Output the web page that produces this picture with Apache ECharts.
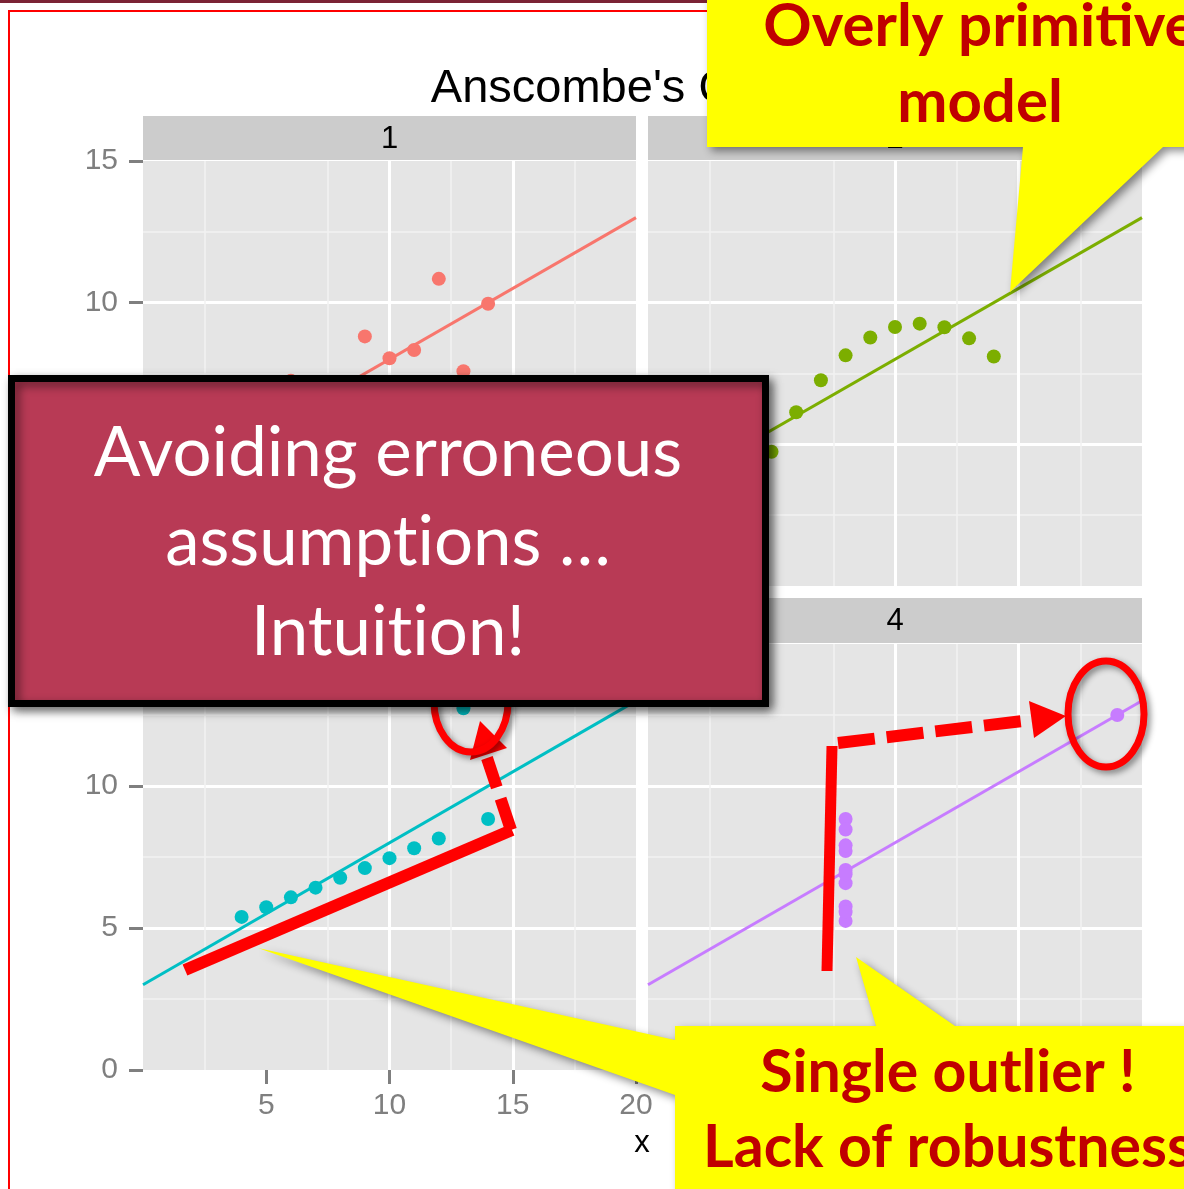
<!DOCTYPE html>
<html>
<head>
<meta charset="utf-8">
<title>Anscombe's Quartet</title>
<script src="https://cdn.jsdelivr.net/npm/echarts@6/dist/echarts.min.js"></script>
<style>
  html, body { margin: 0; padding: 0; background: #ffffff; }
  #chart { width: 1184px; height: 1189px; }
</style>
</head>
<body>
<div id="chart"></div>
<script>
// Anscombe's quartet: four small data sets, one facet each
const panelLabels = ['1', '2', '3', '4'];
const x1 = [10, 8, 13, 9, 11, 14, 6, 4, 12, 7, 5];
const y1 = [8.04, 6.95, 7.58, 8.81, 8.33, 9.96, 7.24, 4.26, 10.84, 4.82, 5.68];
const x2 = [10, 8, 13, 9, 11, 14, 6, 4, 12, 7, 5];
const y2 = [9.14, 8.14, 8.74, 8.77, 9.26, 8.10, 6.13, 3.10, 9.13, 7.26, 4.74];
const x3 = [10, 8, 13, 9, 11, 14, 6, 4, 12, 7, 5];
const y3 = [7.46, 6.77, 12.74, 7.11, 7.81, 8.84, 6.08, 5.39, 8.15, 6.42, 5.73];
const x4 = [8, 8, 8, 8, 8, 8, 8, 19, 8, 8, 8];
const y4 = [6.58, 5.76, 7.71, 8.84, 8.47, 7.04, 5.25, 12.50, 5.56, 7.91, 6.89];
const panelColors = ['#F8766D', '#7CAE00', '#00BFC4', '#C77CFF'];
const xTicks = [5, 10, 15, 20];
const yTicks = [0, 5, 10, 15];

const xsAll = [x1, x2, x3, x4];
const ysAll = [y1, y2, y3, y4];

// ordinary least-squares fit, drawn across the full x range like geom_smooth(fullrange = TRUE)
function lsFit(xs, ys) {
  const n = xs.length;
  const mx = xs.reduce((a, b) => a + b, 0) / n;
  const my = ys.reduce((a, b) => a + b, 0) / n;
  let sxy = 0, sxx = 0;
  for (let i = 0; i < n; i++) { sxy += (xs[i] - mx) * (ys[i] - my); sxx += (xs[i] - mx) * (xs[i] - mx); }
  const b = sxy / sxx;
  return { a: my - b * mx, b: b };
}

const grids = [
  { left: 143, top: 161, width: 493, height: 425 },
  { left: 648, top: 161, width: 494, height: 425 },
  { left: 143, top: 644, width: 493, height: 426 },
  { left: 648, top: 644, width: 494, height: 426 }
].map(g => Object.assign({ show: true, backgroundColor: '#E5E5E5', borderWidth: 0 }, g));

const AXIS_FONT = '"Liberation Sans", Arial, sans-serif';
const TEXT_FONT = 'Lato, "Open Sans", sans-serif';

function makeAxis(kind, idx, showLabels) {
  const isX = kind === 'x';
  return {
    type: 'value',
    gridIndex: idx,
    min: 0,
    max: isX ? 20 : 15,
    interval: 5,
    axisLine: { show: false },
    axisTick: {
      show: showLabels,
      customValues: isX ? xTicks : yTicks,
      length: 14,
      lineStyle: { color: '#7F7F7F', width: 3 }
    },
    axisLabel: {
      show: showLabels,
      customValues: isX ? xTicks : yTicks,
      color: '#7F7F7F',
      fontSize: 30,
      fontFamily: AXIS_FONT,
      margin: isX ? 21 : 25
    },
    splitLine: { show: true, showMinLine: false, showMaxLine: false, lineStyle: { color: '#FFFFFF', width: 3 } },
    minorTick: { show: false, splitNumber: 2 },
    minorSplitLine: { show: true, lineStyle: { color: '#F2F2F2', width: 1.5 } }
  };
}

const xAxes = [0, 1, 2, 3].map(i => makeAxis('x', i, i >= 2));
const yAxes = [0, 1, 2, 3].map(i => makeAxis('y', i, i % 2 === 0));

const series = [];
for (let i = 0; i < 4; i++) {
  const f = lsFit(xsAll[i], ysAll[i]);
  series.push({
    type: 'line',
    xAxisIndex: i, yAxisIndex: i,
    data: [[0, f.a], [20, f.a + 20 * f.b]],
    showSymbol: false,
    lineStyle: { color: panelColors[i], width: 3 },
    silent: true,
    z: 3
  });
  series.push({
    type: 'scatter',
    xAxisIndex: i, yAxisIndex: i,
    data: xsAll[i].map((x, k) => [x, ysAll[i][k]]),
    symbolSize: 14,
    itemStyle: { color: panelColors[i], opacity: 1 },
    silent: true,
    z: 4
  });
}

// facet strips and axis titles
const strips = [
  { x: 143, y: 116, w: 493, h: 44 },
  { x: 648, y: 116, w: 494, h: 44 },
  { x: 143, y: 598, w: 493, h: 45 },
  { x: 648, y: 598, w: 494, h: 45 }
];
const graphics = [];
strips.forEach((s, i) => {
  graphics.push({ type: 'rect', z: 1, shape: { x: s.x, y: s.y, width: s.w, height: s.h }, style: { fill: '#CCCCCC' } });
  graphics.push({ type: 'text', z: 2, style: { text: panelLabels[i], x: s.x + s.w / 2, y: s.y + s.h / 2 + 1,
    fill: '#000000', font: '31px ' + AXIS_FONT, textAlign: 'center', textVerticalAlign: 'middle' } });
});
graphics.push({ type: 'text', z: 2, style: { text: 'x', x: 642, y: 1143, fill: '#000000',
  font: '31px ' + AXIS_FONT, textAlign: 'center', textVerticalAlign: 'middle' } });
graphics.push({ type: 'text', z: 2, rotation: Math.PI / 2, x: 45, y: 615, style: { text: 'y', x: 0, y: 0, fill: '#000000',
  font: '31px ' + AXIS_FONT, textAlign: 'center', textVerticalAlign: 'middle' } });

// slide frame
graphics.push({ type: 'rect', z: 50, shape: { x: 0, y: 0, width: 1184, height: 3 }, style: { fill: '#7B2335' } });
graphics.push({ type: 'rect', z: 50, shape: { x: 9, y: 11, width: 1400, height: 1400 }, style: { fill: 'none', stroke: '#FF0000', lineWidth: 2 } });

const RED = '#FF0000';
const ringShadow = { shadowBlur: 6, shadowColor: 'rgba(0,0,0,0.45)', shadowOffsetX: 3, shadowOffsetY: 3 };

// facet 3: bracket under the points with a dashed arrow to the outlier
graphics.push({ type: 'line', z: 100, shape: { x1: 185, y1: 970, x2: 512, y2: 830 }, style: { stroke: RED, lineWidth: 12 } });
graphics.push({ type: 'line', z: 100, shape: { x1: 511, y1: 830, x2: 487, y2: 758 }, style: { stroke: RED, lineWidth: 12, lineDash: [33, 12] } });
graphics.push({ type: 'polygon', z: 100, shape: { points: [[470, 760], [507, 748], [480, 721]] }, style: { fill: RED } });
graphics.push({ type: 'ellipse', z: 100, shape: { cx: 471, cy: 702, rx: 37, ry: 50 },
  style: Object.assign({ fill: 'none', stroke: RED, lineWidth: 7 }, ringShadow) });

// facet 4: bar along the stacked points and a dashed arrow to the lone point
graphics.push({ type: 'line', z: 100, shape: { x1: 832, y1: 746, x2: 827, y2: 971 }, style: { stroke: RED, lineWidth: 11 } });
graphics.push({ type: 'line', z: 100, shape: { x1: 838, y1: 743, x2: 1031, y2: 720 }, style: { stroke: RED, lineWidth: 12, lineDash: [37, 12] } });
graphics.push({ type: 'polygon', z: 100, shape: { points: [[1029, 701], [1034, 738], [1066, 716]] }, style: { fill: RED } });
graphics.push({ type: 'ellipse', z: 100, shape: { cx: 1106, cy: 714, rx: 38, ry: 53 },
  style: Object.assign({ fill: 'none', stroke: RED, lineWidth: 7 }, ringShadow) });

// central message box (zero-width non-joiners keep "t"+"i" as separate glyphs)
graphics.push({ type: 'rect', z: 110, shape: { x: 11.5, y: 378.5, width: 754, height: 325 },
  style: { fill: '#B83A55', stroke: '#000000', lineWidth: 7, shadowBlur: 10, shadowColor: 'rgba(0,0,0,0.5)', shadowOffsetX: 4, shadowOffsetY: 4 } });
['Avoiding erroneous', 'assumpt\u200Cions \u2026', 'Intuit\u200Cion!'].forEach((t, k) => {
  graphics.push({ type: 'text', z: 111, style: { text: t, x: 388, y: [454, 543, 633][k], fill: '#FFFFFF',
    font: '69px ' + TEXT_FONT, textAlign: 'center', textVerticalAlign: 'middle' } });
});

// callouts
const YELLOW = '#FFFF00';
const DARKRED = '#C00000';
const calloutShadow = { shadowBlur: 8, shadowColor: 'rgba(0,0,0,0.45)', shadowOffsetX: 4, shadowOffsetY: 4 };
graphics.push({ type: 'polygon', z: 120, shape: { points: [[707, -20], [1300, -20], [1300, 147], [1163, 147], [1010, 292], [1023, 147], [707, 147]] },
  style: Object.assign({ fill: YELLOW }, calloutShadow) });
['Overly primitive', 'model'].forEach((t, k) => {
  graphics.push({ type: 'text', z: 121, style: { text: t, x: 980, y: [27, 103][k], fill: DARKRED,
    font: 'bold 60px ' + TEXT_FONT, textAlign: 'center', textVerticalAlign: 'middle' } });
});
graphics.push({ type: 'polygon', z: 120, shape: { points: [[675, 1026], [876, 1026], [856, 957], [955, 1026], [1300, 1026], [1300, 1300],
  [675, 1300], [675, 1095], [258, 948], [675, 1040]] }, style: Object.assign({ fill: YELLOW }, calloutShadow) });
['Single outlier !', 'Lack of robustness'].forEach((t, k) => {
  graphics.push({ type: 'text', z: 121, style: { text: t, x: 948, y: [1073, 1148][k], fill: DARKRED,
    font: 'bold 59px ' + TEXT_FONT, textAlign: 'center', textVerticalAlign: 'middle' } });
});

const chart = echarts.init(document.getElementById('chart'), null, { renderer: 'canvas' });
chart.setOption({
  animation: false,
  backgroundColor: '#FFFFFF',
  title: {
    text: "Anscombe's Quartet",
    left: 638,
    top: 61,
    textAlign: 'center',
    textStyle: { fontSize: 47, fontWeight: 'normal', color: '#000000', fontFamily: AXIS_FONT }
  },
  grid: grids,
  xAxis: xAxes,
  yAxis: yAxes,
  series: series,
  graphic: { elements: graphics }
});
</script>
</body>
</html>
